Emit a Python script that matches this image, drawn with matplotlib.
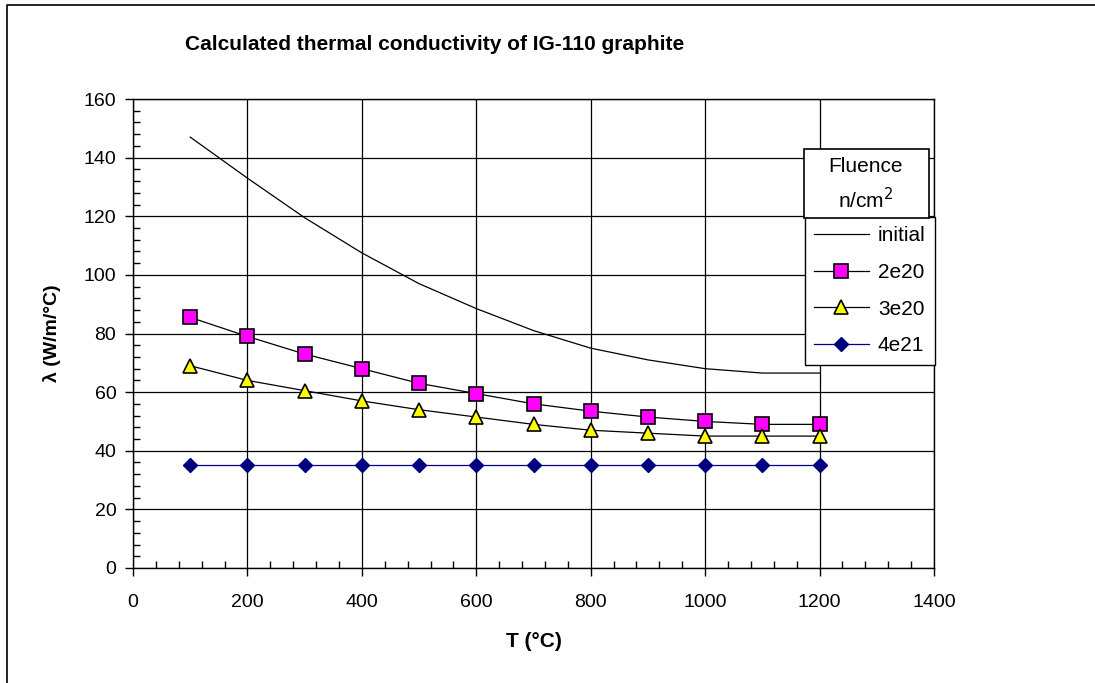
import matplotlib
matplotlib.use("Agg")
import matplotlib.pyplot as plt
from matplotlib.ticker import MultipleLocator
from matplotlib.patches import Rectangle
from matplotlib.lines import Line2D

plt.rcParams['font.family'] = ['Liberation Sans', 'DejaVu Sans']

# data
temps = [100, 200, 300, 400, 500, 600, 700, 800, 900, 1000, 1100, 1200]
k_initial = [147, 133, 119.5, 107.5, 97, 88.5, 81, 75, 71, 68, 66.5, 66.5]
k_2e20 = [85.5, 79, 73, 68, 63, 59.5, 56, 53.5, 51.5, 50, 49, 49]
k_3e20 = [69, 64, 60.5, 57, 54, 51.5, 49, 47, 46, 45, 45, 45]
k_4e21 = [35, 35, 35, 35, 35, 35, 35, 35, 35, 35, 35, 35]
series_labels = ["initial", "2e20", "3e20", "4e21"]

W, H = 1095, 683
fig = plt.figure(figsize=(W / 100, H / 100), dpi=100)
ax = fig.add_axes([133 / W, 1 - 568 / H, (934 - 133) / W, (568 - 99) / H])

ax.plot(temps, k_initial, color="black", lw=0.9, label=series_labels[0])
ax.plot(temps, k_2e20, color="black", lw=0.9, marker="s", ms=9.5,
        mfc="#FF00FF", mec="black", mew=1.2, label=series_labels[1])
ax.plot(temps, k_3e20, color="black", lw=0.9, marker="^", ms=10,
        mfc="#FFFF00", mec="black", mew=1.2, label=series_labels[2])
ax.plot(temps, k_4e21, color="#000080", lw=0.9, marker="D", ms=7,
        mfc="#000080", mec="#000080", label=series_labels[3])

ax.set_xlim(0, 1400)
ax.set_ylim(0, 160)
ax.xaxis.set_major_locator(MultipleLocator(200))
ax.xaxis.set_minor_locator(MultipleLocator(40))
ax.yaxis.set_major_locator(MultipleLocator(20))
ax.yaxis.set_minor_locator(MultipleLocator(4))
ax.tick_params(which="major", direction="out", length=6, width=1, labelsize=14)
ax.tick_params(axis="x", which="major", pad=13)
ax.tick_params(axis="y", which="major", pad=6)
ax.tick_params(which="minor", direction="in", length=5, width=1)
ax.grid(True, which="major", color="black", lw=0.9)
for s in ax.spines.values():
    s.set_linewidth(1)

ax.set_xlabel("T (°C)", fontsize=15, fontweight="bold", labelpad=15)
ax.set_ylabel("λ (W/m/°C)", fontsize=14, fontweight="bold", labelpad=16)
fig.text(435 / W, 1 - 45 / H, "Calculated thermal conductivity of IG-110 graphite",
         ha="center", va="center", fontsize=15, fontweight="bold")

# legend: title box + entries box
leg = ax.legend(loc="upper left", bbox_to_anchor=(805 / W, 1 - 217 / H),
                bbox_transform=fig.transFigure, borderaxespad=0, fontsize=15,
                frameon=True, fancybox=False, edgecolor="black", framealpha=1,
                handlelength=2.6, handletextpad=0.45, labelspacing=0.85,
                borderpad=0.45)
leg.get_frame().set_linewidth(1)

fig.patches.append(Rectangle((804 / W, 1 - 218 / H), (929 - 804) / W, (218 - 149) / H,
                             transform=fig.transFigure, fill=True, facecolor="white",
                             edgecolor="black", lw=1.2, zorder=5))
fig.text(866 / W, 1 - 166 / H, "Fluence", ha="center", va="center", fontsize=15, zorder=6)
fig.text(866 / W, 1 - 200 / H, "n/cm$^2$", ha="center", va="center", fontsize=15, zorder=6)

# outer chart border (left and top edges visible)
fig.lines.append(Line2D([7 / W, 7 / W, 1.0], [0.0, 1 - 5 / H, 1 - 5 / H],
                        transform=fig.transFigure, color="black", lw=1.2))

fig.savefig("out.png", dpi=100)
